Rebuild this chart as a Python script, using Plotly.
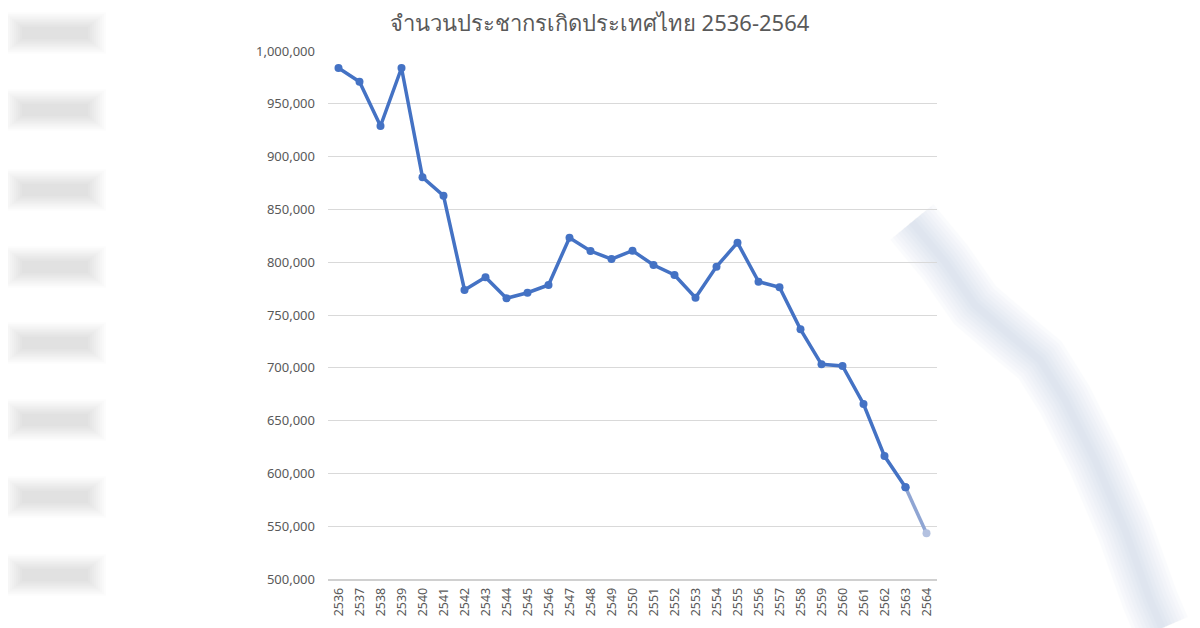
import plotly.graph_objects as go

years = [str(y) for y in range(2536, 2565)]
births = [983900, 970900, 929000, 983900, 880400, 863000, 773700, 785700,
          765800, 771100, 778400, 823200, 810600, 803000, 810900, 797300,
          787900, 766400, 795800, 818500, 781600, 776200, 736400, 703300,
          701700, 665700, 616400, 586800, 543300]
y_ticks = list(range(500000, 1000001, 50000))
title_text = "จำนวนประชากรเกิดประเทศไทย 2536-2564"

BLUE = "#4472C4"
FADED = "#b3c1e0"

# plot area in screen pixels (page has 8px body margin)
PX0, PW, PY1, PH = 328, 609, 579, 528


def px(x):
    return (x - PX0) / PW


def py(y):
    return (PY1 - y) / PH


fig = go.Figure()
fig.add_trace(go.Scatter(
    x=years[:-1], y=births[:-1], mode="lines+markers",
    line=dict(color=BLUE, width=3.5),
    marker=dict(color=BLUE, size=8),
    showlegend=False, hoverinfo="x+y"))
fig.add_trace(go.Scatter(
    x=years[-2:], y=births[-2:], mode="lines+markers",
    line=dict(color="#8fa5d3", width=3.5),
    marker=dict(color=[BLUE, FADED], size=8),
    showlegend=False, hoverinfo="x+y"))

# decorative blurred background (left grey blobs, right blue streak)
shapes = []
for cy in [33, 110, 190, 267, 343, 420, 497, 575]:
    for grow in range(18, -1, -2):
        shapes.append(dict(type="rect", xref="paper", yref="paper", layer="below",
                           x0=px(22 - grow), x1=px(88 + grow),
                           y0=py(cy + 6 + grow * 0.8), y1=py(cy - 6 - grow * 0.8),
                           fillcolor="#a8a8a8", opacity=0.03, line=dict(width=0)))
streak = [(912, 222), (945, 262), (975, 305), (1010, 335), (1040, 360),
          (1065, 400), (1095, 460), (1125, 530), (1150, 600), (1162, 628)]
path = "M " + " L ".join(f"{px(x):.4f},{py(y):.4f}" for x, y in streak)
for w in range(56, 4, -7):
    shapes.append(dict(type="path", xref="paper", yref="paper", layer="below",
                       path=path, line=dict(color="#9fb3d6", width=w),
                       opacity=0.04))

fig.update_layout(
    width=1200, height=628,
    margin=dict(l=320, r=271, t=43, b=57),
    paper_bgcolor="white", plot_bgcolor="rgba(0,0,0,0)",
    font=dict(family="Noto Sans, Liberation Sans, sans-serif", color="#595959"),
    title=dict(text=title_text, x=0.493, xref="container", xanchor="center",
               y=0.976, yref="container", yanchor="middle",
               font=dict(size=22, color="#595959")),
    xaxis=dict(type="category", categoryorder="array", categoryarray=years,
               range=[-0.5, 28.5], tickangle=-90, showgrid=False,
               showline=True, linecolor="#d0d0d0", linewidth=1.5,
               ticks="", tickfont=dict(size=12.5, color="#595959"),
               ticklabelstandoff=2),
    yaxis=dict(range=[500000, 1000000], tickvals=y_ticks,
               tickformat=",d", showgrid=True, gridcolor="#d9d9d9",
               gridwidth=1, zeroline=False, showline=False, ticks="",
               tickfont=dict(size=13, color="#595959"),
               ticklabelstandoff=12),
    shapes=shapes,
)

fig.write_html("out.html")
